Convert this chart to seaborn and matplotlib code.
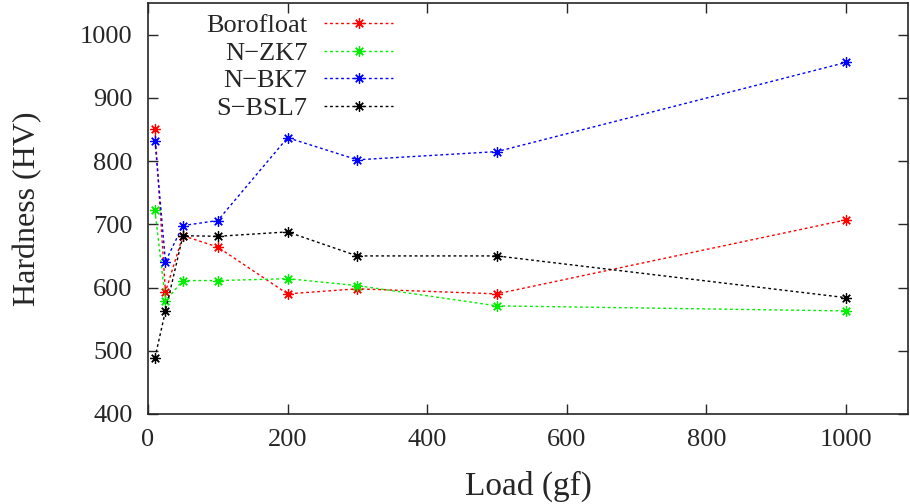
import matplotlib
matplotlib.use("Agg")
import matplotlib.pyplot as plt
import seaborn as sns
import pandas as pd

loads = [10, 25, 50, 100, 200, 300, 500, 1000]
borofloat = [850, 593, 682, 664, 590, 598, 590, 707]
nzk7 = [722, 579, 611, 611, 614, 603, 571, 563]
nbk7 = [832, 641, 698, 706, 837, 802, 815, 956]
sbsl7 = [489, 563, 682, 681, 688, 650, 650, 584]

series = {"Borofloat": borofloat, "N\u2212ZK7": nzk7, "N\u2212BK7": nbk7, "S\u2212BSL7": sbsl7}
colors = {"Borofloat": "#ff0000", "N\u2212ZK7": "#00ee00", "N\u2212BK7": "#0000ff", "S\u2212BSL7": "#000000"}

sns.set_style("ticks")
plt.rcParams["font.family"] = ["Liberation Serif", "DejaVu Serif"]

fig = plt.figure(figsize=(9.1, 5.04), dpi=100)
ax = fig.add_axes([148 / 910, 1 - 414 / 504, (908 - 148) / 910, (414 - 3) / 504])

for name, vals in series.items():
    df = pd.DataFrame({"load": loads, "hv": vals})
    sns.lineplot(data=df, x="load", y="hv", ax=ax, color=colors[name], marker=(8, 2, 0),
                 markersize=7.5, markeredgewidth=0.9, markeredgecolor=colors[name],
                 linewidth=1.0, linestyle=(0, (2, 2)),
                 label=name, sort=False, estimator=None)

ax.set_xlim(0, 1089)
ax.set_ylim(400, 1050)
ax.set_xticks([0, 200, 400, 600, 800, 1000])
ax.set_yticks([400, 500, 600, 700, 800, 900, 1000])
ax.tick_params(direction="in", length=7, width=1, top=True, right=True, labelsize=19)
ax.tick_params(axis="y", pad=11)
ax.tick_params(axis="x", pad=11)
for s in ax.spines.values():
    s.set_linewidth(1.2)
    s.set_visible(True)
ax.set_xlabel("Load (gf)", fontsize=24, labelpad=14)
ax.set_ylabel("Hardness (HV)", fontsize=23, labelpad=27)

leg = ax.legend(loc="upper right", bbox_to_anchor=(393 / 910, 1 - 14 / 504), bbox_transform=fig.transFigure,
                frameon=False, markerfirst=False, fontsize=19, handlelength=2.6, handletextpad=0.65,
                labelspacing=0.15, borderpad=0, borderaxespad=0)
for col in leg._legend_handle_box.get_children():
    col.align = "right"

fig.savefig("out.png", dpi=100)
